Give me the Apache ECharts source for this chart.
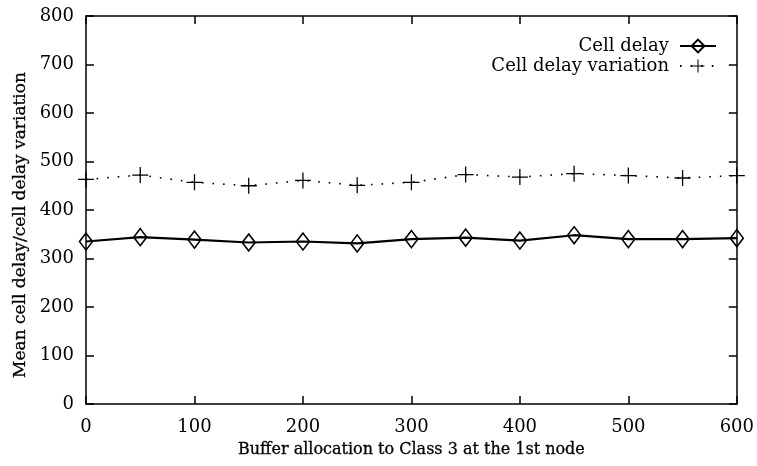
<!DOCTYPE html>
<html>
<head>
<meta charset="utf-8">
<script src="https://cdn.jsdelivr.net/npm/echarts@6/dist/echarts.min.js"></script>
<style>html,body{margin:0;padding:0;background:#fff}#c{width:757px;height:466px}</style>
</head>
<body>
<div id="c"></div>
<script>
const xValues = [0, 50, 100, 150, 200, 250, 300, 350, 400, 450, 500, 550, 600];
const cellDelay = [335, 344, 339, 333, 335, 331, 340, 343, 337, 348, 340, 340, 342];
const cellDelayVariation = [463, 472, 457, 450, 461, 451, 457, 473, 468, 475, 471, 466, 471];
const xTicks = [0, 100, 200, 300, 400, 500, 600];
const yTicks = [0, 100, 200, 300, 400, 500, 600, 700, 800];

const FONT = 'DejaVu Serif';
const plus = 'path://M0,4.6 H4.6 V0 H5.4 V4.6 H10 V5.4 H5.4 V10 H4.6 V5.4 H0 Z';

const chart = echarts.init(document.getElementById('c'));
const axisCommon = {
  axisLine: { show: true, onZero: false, lineStyle: { color: '#000', width: 1.5 } },
  axisTick: { show: true, inside: true, length: 8, lineStyle: { color: '#000', width: 1.5 } },
  splitLine: { show: false }
};
const legendText = { fontFamily: FONT, fontSize: 18, color: '#000', padding: [0, 6, 0, 0] };
chart.setOption({
  animation: false,
  backgroundColor: '#fff',
  grid: { left: 86, right: 20, top: 16, bottom: 62 },
  legend: [
    { data: ['Cell delay'], right: 40, top: 37, padding: 0, align: 'right', itemWidth: 36, itemHeight: 16, textStyle: legendText },
    { data: ['Cell delay variation'], right: 40, top: 57, padding: 0, align: 'right', itemWidth: 36, itemHeight: 16, textStyle: legendText }
  ],
  xAxis: [
    Object.assign({
      type: 'value', min: 0, max: 600, interval: 100, position: 'bottom',
      name: 'Buffer allocation to Class 3 at the 1st node', nameLocation: 'middle', nameGap: 38,
      nameTextStyle: { fontFamily: FONT, fontSize: 16, color: '#000', textBorderColor: '#000', textBorderWidth: 0.3 },
      axisLabel: { fontFamily: FONT, fontSize: 18, color: '#000', margin: 14,
        formatter: v => xTicks.includes(v) ? String(v) : '' }
    }, axisCommon),
    Object.assign({
      type: 'value', min: 0, max: 600, interval: 100, position: 'top', axisLabel: { show: false }
    }, axisCommon)
  ],
  yAxis: [
    Object.assign({
      type: 'value', min: 0, max: 800, interval: 100, position: 'left',
      name: 'Mean cell delay/cell delay variation', nameLocation: 'middle', nameGap: 56,
      nameTextStyle: { fontFamily: FONT, fontSize: 17, color: '#000', textBorderColor: '#000', textBorderWidth: 0.3, padding: [0, 30, 0, 0] },
      axisLabel: { fontFamily: FONT, fontSize: 18, color: '#000', margin: 12,
        formatter: v => yTicks.includes(v) ? String(v) : '' }
    }, axisCommon),
    Object.assign({
      type: 'value', min: 0, max: 800, interval: 100, position: 'right', axisLabel: { show: false }
    }, axisCommon)
  ],
  series: [
    {
      name: 'Cell delay', type: 'line',
      data: xValues.map((x, i) => [x, cellDelay[i]]),
      symbol: 'diamond', symbolSize: [13, 17],
      itemStyle: { color: 'rgba(0,0,0,0)', borderColor: '#000', borderWidth: 1.6 },
      lineStyle: { color: '#000', width: 2.2 },
      z: 3
    },
    {
      name: 'Cell delay variation', type: 'line',
      data: xValues.map((x, i) => [x, cellDelayVariation[i]]),
      symbol: plus, symbolSize: 16,
      itemStyle: { color: '#000' },
      lineStyle: { color: '#000', width: 1.6, type: [1.6, 9] },
      z: 3
    }
  ]
});
</script>
</body>
</html>
